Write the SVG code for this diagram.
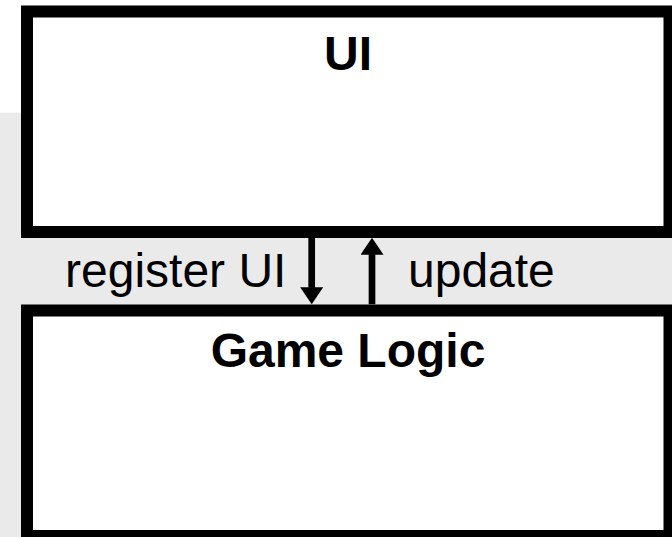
<svg xmlns="http://www.w3.org/2000/svg" width="672" height="537" viewBox="0 0 672 537">
  <style>
    .box { fill: #ffffff; stroke: #000000; stroke-width: 12; }
    .title { font-family: "Liberation Sans", Arial, sans-serif; font-size: 48px; font-weight: bold; fill: #000000; text-anchor: middle; }
    .label { font-family: "Liberation Sans", Arial, sans-serif; font-size: 48px; fill: #000000; }
    .link { stroke: #000000; stroke-width: 6.7; fill: none; marker-end: url(#head); }
  </style>
  <defs>
    <marker id="head" markerUnits="userSpaceOnUse" viewBox="0 -11.5 17 23" refX="0.5" refY="0" markerWidth="17" markerHeight="23" orient="auto">
      <path d="M0,-11.5 L17,0 L0,11.5 z" fill="#000000"/>
    </marker>
  </defs>

  <!-- page background -->
  <rect x="0" y="0" width="672" height="537" fill="#ffffff"/>
  <rect x="0" y="112.7" width="672" height="424.3" fill="#eaeaea"/>

  <g id="ui">
    <rect class="box" x="27" y="11.5" width="642.5" height="220.5"/>
    <text class="title" x="348" y="70">UI</text>
  </g>

  <g id="game-logic">
    <rect class="box" x="27" y="310.5" width="642.5" height="225.5"/>
    <text class="title" x="348" y="366.7">Game Logic</text>
  </g>

  <g id="connectors">
    <line class="link" x1="311.7" y1="238" x2="311.7" y2="287.8"/>
    <line class="link" x1="372" y1="304.3" x2="372" y2="254.2"/>
    <text class="label" x="65" y="287">register UI</text>
    <text class="label" x="408" y="287">update</text>
  </g>
</svg>
